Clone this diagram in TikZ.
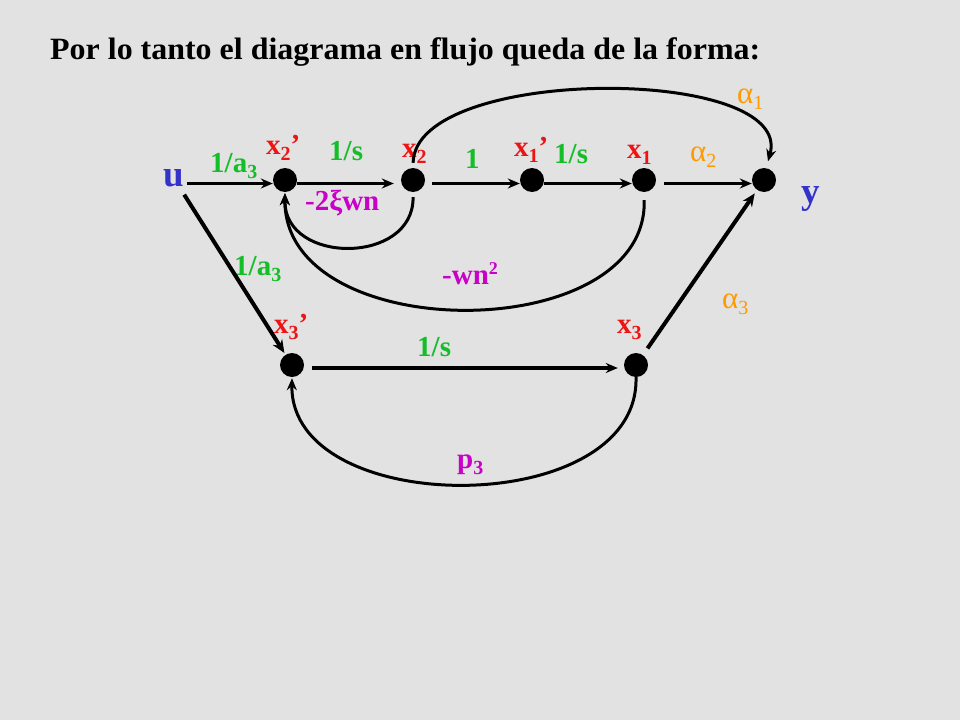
\documentclass[tikz,border=0pt]{standalone}
\usepackage{fontspec}
\setmainfont{Liberation Serif}
\usetikzlibrary{arrows.meta}
\definecolor{bg}{RGB}{226,226,226}
\definecolor{lred}{RGB}{238,20,20}
\definecolor{lgreen}{RGB}{20,190,40}
\definecolor{lmag}{RGB}{200,0,200}
\definecolor{lorange}{RGB}{255,153,0}
\definecolor{lblue}{RGB}{51,51,204}
\newcommand\mysb[1]{\raisebox{-6pt}{\fontsize{20}{20}\selectfont #1}}
\newcommand\mysp[1]{\raisebox{10pt}{\fontsize{18}{18}\selectfont #1}}
\begin{document}
\begin{tikzpicture}[x=1pt,y=-1pt,
  dot/.style={circle,fill=black,minimum size=24pt,inner sep=0pt},
  lab/.style={font=\fontsize{29}{32}\selectfont\bfseries,inner sep=0pt,anchor=base west},
  alab/.style={font=\fontsize{31}{34}\selectfont,inner sep=0pt,anchor=base west,text=lorange},
  big/.style={font=\fontsize{37}{40}\selectfont\bfseries,inner sep=0pt,anchor=base west,text=lblue},
  arr/.style={line width=3.3pt,-{Stealth[length=12pt,width=10pt]}},
  carr/.style={line width=3pt,-{Stealth[length=12pt,width=10pt]}},
  darr/.style={line width=4pt,-{Stealth[length=13pt,width=11pt]}}]
\fill[bg] (0,0) rectangle (960,720);
\useasboundingbox (0,0) rectangle (960,720);
% title
\node[anchor=base west,inner sep=0pt,font=\fontsize{31}{34}\selectfont\bfseries] (title) at (50,59)
  {\resizebox{710pt}{\height}{Por lo tanto el diagrama en flujo queda de la forma:}};
% dots
\node[dot] (x2p) at (285,180) {};
\node[dot] (x2)  at (413,180) {};
\node[dot] (x1p) at (532,180) {};
\node[dot] (x1)  at (644,180) {};
\node[dot] (y)   at (764,180) {};
\node[dot] (x3p) at (292,365) {};
\node[dot] (x3)  at (636,365) {};
% u and y labels
\node[big] (u) at (163,186) {u};
\node[big] (ylab) at (801,203) {y};
% node labels
\node[lab,text=lred] (lx2p) at (266,154) {x\mysb{2}’};
\node[lab,text=lred] (lx2) at (402,157) {x\mysb{2}};
\node[lab,text=lred] (lx1p) at (514,156) {x\mysb{1}’};
\node[lab,text=lred] (lx1) at (627,158) {x\mysb{1}};
\node[lab,text=lred] (lx3p) at (274,333) {x\mysb{3}’};
\node[lab,text=lred] (lx3) at (617,333) {x\mysb{3}};
% gains
\node[lab,text=lgreen] (g1) at (210,172) {1/a\mysb{3}};
\node[lab,text=lgreen] (g2) at (329,160) {1/s};
\node[lab,text=lgreen] (g3) at (465,168) {1};
\node[lab,text=lgreen] (g4) at (554,163) {1/s};
\node[lab,text=lgreen] (g5) at (234,275) {1/a\mysb{3}};
\node[lab,text=lgreen] (g6) at (417,356) {1/s};
\node[lab,text=lmag] (g7) at (305,210) {-2ξwn};
\node[lab,text=lmag] (g8) at (442,284) {-wn\mysp{2}};
\node[lab,text=lmag] (g9) at (457,468) {p\mysb{3}};
\node[alab] (a1) at (737,103) {α\mysb{1}};
\node[alab] (a2) at (690,161) {α\mysb{2}};
\node[alab] (a3) at (722,308) {α\mysb{3}};
% straight branches
\draw[arr,shorten <=3pt] (u.east |- x2p) ++(0,3.5) coordinate (us) -- ([yshift=-3.5pt]x2p.west);
\draw[arr,shorten >=7pt] ([yshift=-3.5pt]x2p.east) -- ([yshift=-3.5pt]x2.west);
\draw[arr,shorten <=7pt] ([yshift=-3.5pt]x2.east) -- ([yshift=-3.5pt]x1p.west);
\draw[arr] ([yshift=-3.5pt]x1p.east) -- ([yshift=-3.5pt]x1.west);
\draw[arr,shorten <=8pt] ([yshift=-3.5pt]x1.east) -- ([yshift=-3.5pt]y.west);
\draw[arr,shorten <=8pt,shorten >=6pt] ([yshift=-3pt]x3p.east) -- ([yshift=-3pt]x3.west);
\draw[darr,shorten <=20pt,shorten >=2pt] (u.center) -- (x3p);
\draw[darr,shorten <=8pt,shorten >=4pt] (x3) -- (y);
% feedback / curved branches
\draw[carr,shorten <=5pt,shorten >=1pt] (x2.south) .. controls (414,265) and (284,265) .. (x2p.south);
\draw[carr,shorten <=8pt,shorten >=1pt] (x1.south) .. controls (648,347) and (284,347) .. (x2p.south);
\draw[carr,shorten <=5pt,shorten >=7pt] (x2.north) .. controls (415,65) and (795,65) .. (y.80);
\draw[carr,shorten <=0pt,shorten >=1pt] (x3.south) .. controls (640,520) and (290,520) .. (x3p.south);
\end{tikzpicture}
\end{document}
